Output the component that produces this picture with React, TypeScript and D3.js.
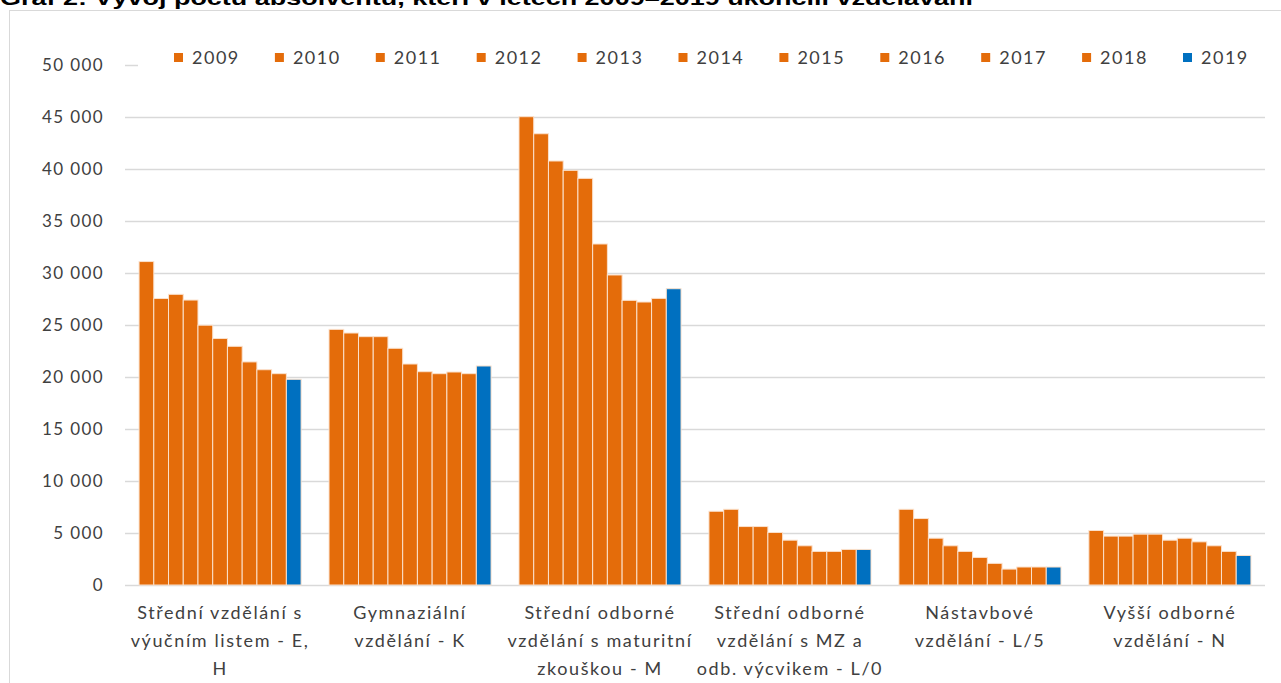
import React from "react";
import * as d3 from "d3";

const title = "Graf 2: Vývoj počtu absolventů, kteří v letech 2009–2019 ukončili vzdělávání";
const years = ["2009", "2010", "2011", "2012", "2013", "2014", "2015", "2016", "2017", "2018", "2019"];
const categories = ["EH", "K", "M", "L0", "L5", "N"];
const categoryLabels = [
  ["Střední vzdělání s", "výučním listem - E,", "H"],
  ["Gymnaziální", "vzdělání - K"],
  ["Střední odborné", "vzdělání s maturitní", "zkouškou - M"],
  ["Střední odborné", "vzdělání s MZ a", "odb. výcvikem - L/0"],
  ["Nástavbové", "vzdělání - L/5"],
  ["Vyšší odborné", "vzdělání - N"],
];
const valuesEH = [31100, 27550, 27950, 27400, 24980, 23700, 22950, 21450, 20700, 20320, 19780];
const valuesK = [24580, 24230, 23880, 23880, 22760, 21250, 20510, 20320, 20480, 20320, 21060];
const valuesM = [45030, 43390, 40770, 39870, 39100, 32790, 29810, 27370, 27210, 27560, 28490];
const valuesL0 = [7090, 7280, 5620, 5620, 5050, 4310, 3770, 3230, 3230, 3420, 3420];
const valuesL5 = [7280, 6390, 4500, 3770, 3230, 2650, 2080, 1530, 1730, 1730, 1730];
const valuesN = [5240, 4700, 4700, 4890, 4890, 4310, 4500, 4150, 3770, 3230, 2840];
const seriesValues = [valuesEH, valuesK, valuesM, valuesL0, valuesL5, valuesN];
const yTicks = [0, 5000, 10000, 15000, 20000, 25000, 30000, 35000, 40000, 45000, 50000];

const ORANGE = "#E46C0A";
const BLUE = "#0070C0";
const FONT = "Lato, 'Open Sans', sans-serif";

export default function App() {
  const W = 1281;
  const H = 683;
  const x0 = d3.scaleBand<string>().domain(categories).range([125, 1265]).paddingInner(0.147).paddingOuter(0.074);
  const x1 = d3.scaleBand<string>().domain(years).range([0, x0.bandwidth()]).padding(0);
  const y = d3.scaleLinear().domain([0, 50000]).range([585, 65]);
  const fmt = (v: number) => d3.format(",")(v).replace(/,/g, " ");
  const color = (yr: string) => (yr === "2019" ? BLUE : ORANGE);

  return (
    <svg width={W} height={H} style={{ position: "absolute", left: 0, top: 0, background: "#fff" }}>
      <rect x={9.5} y={10.5} width={1300} height={700} fill="#fff" stroke="#d9d9d9" strokeWidth={1} />
      <text
        x={0}
        y={5}
        fontFamily="'Liberation Sans', Arial, sans-serif"
        fontWeight="bold"
        fontSize={21}
        fill="#000"
        textLength={973}
        lengthAdjust="spacingAndGlyphs"
      >
        {title}
      </text>
      {yTicks.map((t) => (
        <g key={t}>
          <line x1={125} x2={1265} y1={Math.round(y(t)) + 0.5} y2={Math.round(y(t)) + 0.5} stroke="#d9d9d9" strokeWidth={1.5} />
          <text x={104} y={y(t)} dy="0.35em" textAnchor="end" fontFamily={FONT} fontSize={17} letterSpacing={1.4} fill="#404040">
            {fmt(t)}
          </text>
        </g>
      ))}
      {categories.map((c, ci) => (
        <g key={c} transform={`translate(${x0(c)},0)`}>
          {years.map((yr, yi) => (
            <rect
              key={yr}
              x={x1(yr)}
              y={y(seriesValues[ci][yi])}
              width={x1.bandwidth()}
              height={y(0) - y(seriesValues[ci][yi])}
              fill={color(yr)}
              stroke="#fbe1cc"
              strokeWidth={1}
            />
          ))}
        </g>
      ))}
      {categories.map((c, ci) => (
        <text key={c} textAnchor="middle" fontFamily={FONT} fontSize={18} letterSpacing={1.6} fill="#404040">
          {categoryLabels[ci].map((line, li) => (
            <tspan key={li} x={(x0(c) as number) + x0.bandwidth() / 2} y={619 + li * 28}>
              {line}
            </tspan>
          ))}
        </text>
      ))}
      <rect x={138} y={40} width={1130} height={34} fill="#fff" />
      {years.map((yr, i) => (
        <g key={yr} transform={`translate(${174 + i * 100.9},0)`}>
          <rect x={0} y={53} width={9} height={9} fill={color(yr)} />
          <text x={18} y={57.5} dy="0.35em" fontFamily={FONT} fontSize={18} letterSpacing={1.5} fill="#404040">
            {yr}
          </text>
        </g>
      ))}
    </svg>
  );
}
